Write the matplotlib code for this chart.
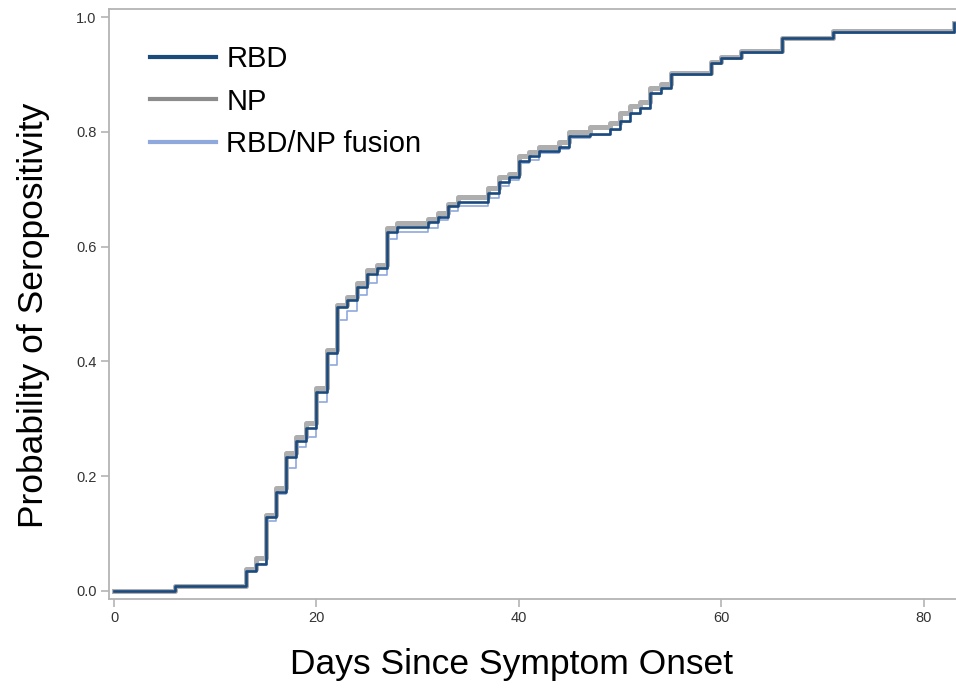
import matplotlib.pyplot as plt
from matplotlib.ticker import FormatStrFormatter

plt.rcParams['font.family'] = ['Liberation Sans', 'DejaVu Sans']

# Days at which the step curves change
rbd_days = [0, 6, 13, 14, 15, 16, 17, 18, 19, 20, 21, 22, 23, 24, 25, 26, 27, 28,
            31, 32, 33, 34, 37, 38, 39, 40, 41, 42, 44, 45, 47, 49, 50, 51, 52, 53,
            54, 55, 59, 60, 62, 66, 71, 83]
rbd_prob = [0.0, 0.008, 0.034, 0.047, 0.128, 0.173, 0.233, 0.262, 0.284, 0.347,
            0.414, 0.495, 0.507, 0.530, 0.553, 0.562, 0.626, 0.635, 0.643, 0.652,
            0.670, 0.677, 0.693, 0.712, 0.722, 0.750, 0.757, 0.766, 0.773, 0.792,
            0.797, 0.805, 0.818, 0.832, 0.842, 0.867, 0.877, 0.901, 0.920, 0.929,
            0.939, 0.963, 0.974, 0.990]

np_days = rbd_days
np_prob = [0.0, 0.009, 0.038, 0.057, 0.132, 0.179, 0.241, 0.269, 0.292, 0.353,
           0.420, 0.498, 0.512, 0.536, 0.559, 0.568, 0.632, 0.641, 0.648, 0.658,
           0.675, 0.686, 0.702, 0.722, 0.727, 0.757, 0.765, 0.773, 0.783, 0.800,
           0.809, 0.816, 0.832, 0.845, 0.852, 0.876, 0.884, 0.902, 0.921, 0.930,
           0.940, 0.964, 0.975, 0.990]

fus_days = rbd_days
fus_prob = [0.0, 0.008, 0.034, 0.047, 0.121, 0.169, 0.214, 0.250, 0.269, 0.329,
            0.394, 0.472, 0.488, 0.516, 0.536, 0.551, 0.614, 0.626, 0.632, 0.646,
            0.662, 0.670, 0.684, 0.706, 0.716, 0.745, 0.751, 0.763, 0.770, 0.789,
            0.795, 0.803, 0.817, 0.831, 0.841, 0.866, 0.876, 0.900, 0.919, 0.928,
            0.938, 0.962, 0.973, 0.990]

fig = plt.figure(figsize=(9.56, 6.94), dpi=100)
ax = fig.add_axes([0.114, 0.137, 0.886, 0.85])

ax.step(np_days, np_prob, where='post', color='#8c8c8c', lw=3.6, alpha=0.7, label='NP')
ax.step(fus_days, fus_prob, where='post', color='#8fa9dd', lw=1.2, label='RBD/NP fusion')
ax.step(rbd_days, rbd_prob, where='post', color='#1b4a7d', lw=1.9, label='RBD')

ax.set_xlim(-0.5, 83.2)
ax.set_ylim(-0.014, 1.014)
ax.set_xticks([0, 20, 40, 60, 80])
ax.set_yticks([0.0, 0.2, 0.4, 0.6, 0.8, 1.0])
ax.yaxis.set_major_formatter(FormatStrFormatter('%.1f'))

for side in ['left', 'bottom', 'top']:
    ax.spines[side].set_color('#b4b4b4')
    ax.spines[side].set_linewidth(1.3)
ax.spines['right'].set_visible(False)

ax.tick_params(axis='both', color='#b4b4b4', length=6, width=1.2,
               labelsize=10.5, labelcolor='#333333', pad=3)

ax.set_xlabel('Days Since Symptom Onset', fontsize=25.5, labelpad=16)
ax.set_ylabel('Probability of Seropositivity', fontsize=25.5, labelpad=19)
ax.xaxis.label.set_x(0.475)
ax.yaxis.label.set_y(0.481)

# legend order: RBD, NP, fusion
h, l = ax.get_legend_handles_labels()
order = [2, 0, 1]
leg = ax.legend([h[i] for i in order], [l[i] for i in order], loc='upper left',
                bbox_to_anchor=(0.018, 0.983), frameon=False, fontsize=21,
                handlelength=2.26, handletextpad=0.34, labelspacing=0.49)
for line in leg.get_lines():
    line.set_linewidth(3)
    line.set_alpha(1)

fig.savefig('out.png', dpi=100)
